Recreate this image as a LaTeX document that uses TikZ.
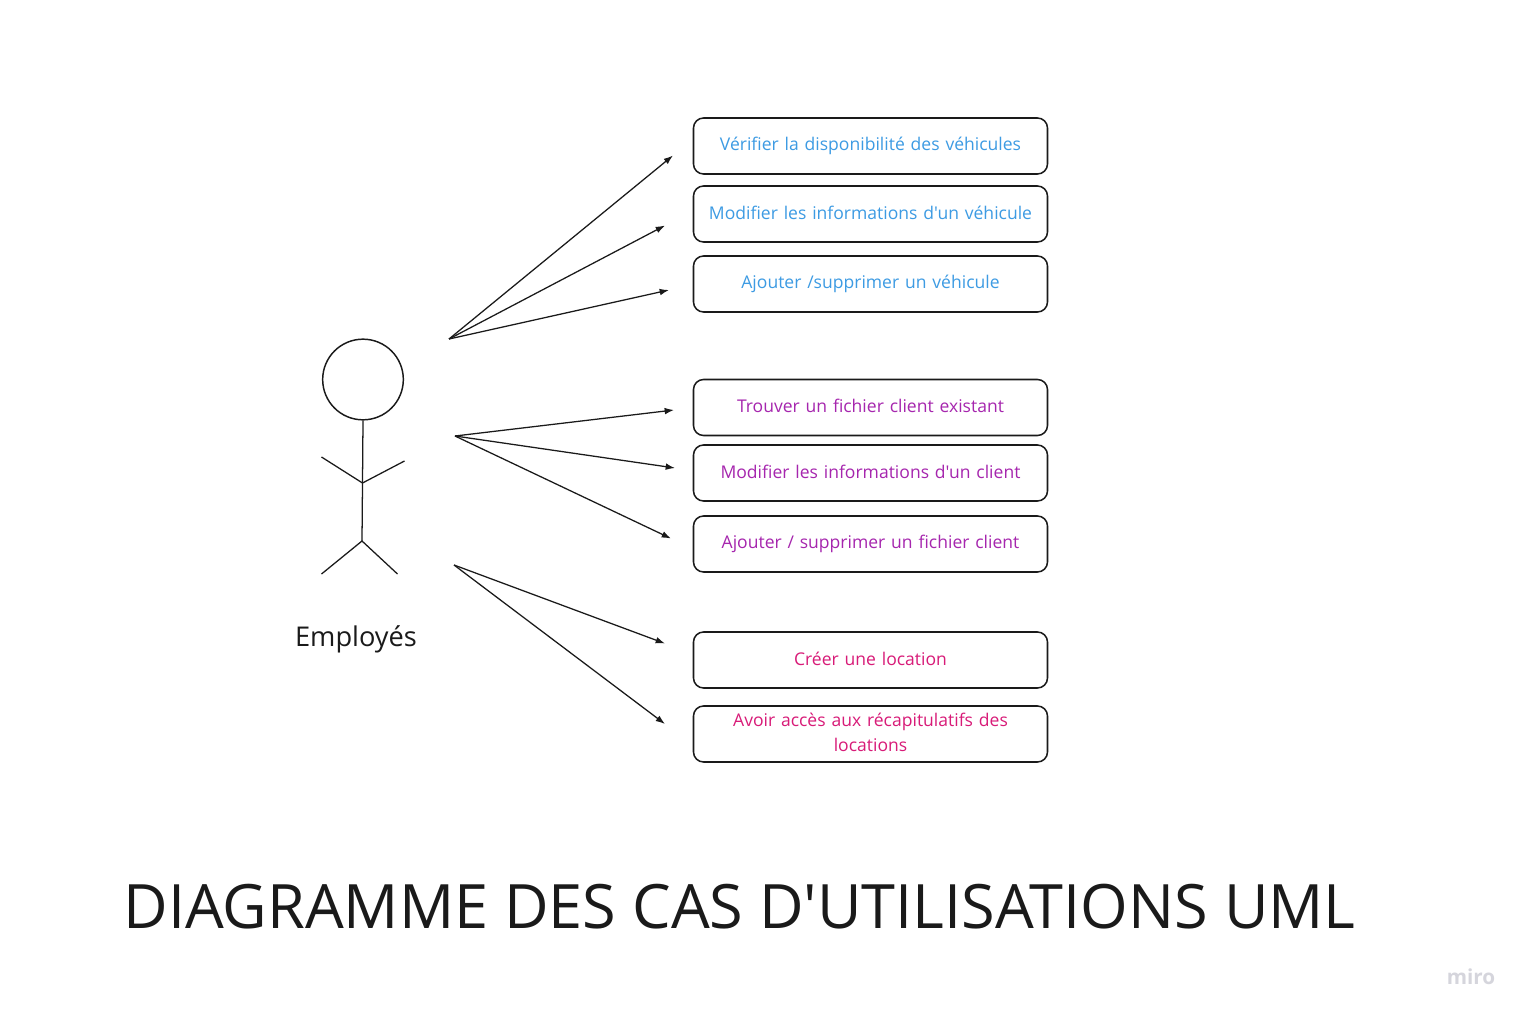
\documentclass[tikz,border=0pt]{standalone}
\usepackage{fontspec}
\newfontfamily\plainsans{Open Sans}
\usetikzlibrary{arrows.meta}
\definecolor{cblue}{HTML}{3D9BE3}
\definecolor{cpurple}{HTML}{A626AE}
\definecolor{cpink}{HTML}{D81B78}
\definecolor{ink}{HTML}{1A1A1A}
\definecolor{wm}{HTML}{D5D5DC}
\tikzset{
  usecase/.style={draw=ink,line width=1.15pt,rounded corners=7.5pt,minimum width=265.5pt,minimum height=42pt,text width=255pt,align=center,inner sep=0pt,font=\plainsans\fontsize{13.15pt}{18.75pt}\selectfont},
  link/.style={draw=ink,line width=0.95pt,-{Latex[length=7pt,width=5pt]}},
  limb/.style={draw=ink,line width=0.95pt},
  head/.style={draw=ink,line width=1.1pt,circle,minimum size=60.5pt,inner sep=0pt},
}
\begin{document}
\begin{tikzpicture}[x=0.75pt,y=-0.75pt]
\useasboundingbox (0,0) rectangle (1530,1020);
\fill[white] (0,0) rectangle (1530,1020);
% use cases
\node[usecase,text=cblue] (a1) at (870.5,146) {\raisebox{1.5pt}{Vérifier la disponibilité des véhicules}};
\node[usecase,text=cblue] (a2) at (870.5,214) {\raisebox{1.5pt}{Modifier les informations d'un véhicule}};
\node[usecase,text=cblue] (a3) at (870.5,284) {\raisebox{1.5pt}{Ajouter /supprimer un véhicule}};
\node[usecase,text=cpurple] (b1) at (870.5,407.5) {\raisebox{2.2pt}{Trouver un fichier client existant}};
\node[usecase,text=cpurple] (b2) at (870.5,473) {\raisebox{1.5pt}{Modifier les informations d'un client}};
\node[usecase,text=cpurple] (b3) at (870.5,544) {\raisebox{1.5pt}{Ajouter / supprimer un fichier client}};
\node[usecase,text=cpink] (c1) at (870.5,660) {\raisebox{1.5pt}{Créer une location}};
\node[usecase,text=cpink] (c2) at (870.5,734) {\raisebox{2.6pt}{Avoir accès aux récapitulatifs des}\\\raisebox{2.6pt}{locations}};
% actor
\node[head] (head) at (363,379.5) {};
\coordinate (hip) at (362.5,483);
\coordinate (armL) at (321.5,457);
\coordinate (armR) at (404.5,461);
\coordinate (crotch) at (362,541);
\coordinate (legL) at (321.5,574);
\coordinate (legR) at (397.5,574);
\draw[limb] (head.south) -- (hip) -- (crotch);
\draw[limb] (armL) -- (hip) -- (armR);
\draw[limb] (legL) -- (crotch) -- (legR);
\node[text=ink,font=\plainsans\fontsize{20.4pt}{24pt}\selectfont] (actor) at (356,639) {Employés};
% arrows
\coordinate (s1) at (449,339);
\coordinate (s2) at (455,436);
\coordinate (s3) at (454,565);
\coordinate (e1) at (673,155.5);
\coordinate (e2) at (665,225.5);
\coordinate (e3) at (669,290);
\coordinate (e4) at (674,410);
\coordinate (e5) at (675,468);
\coordinate (e6) at (671,538.5);
\coordinate (e7) at (665,643.5);
\coordinate (e8) at (665,724);
\foreach \s/\e in {s1/e1,s1/e2,s1/e3,s2/e4,s2/e5,s2/e6,s3/e7,s3/e8}
  \draw[link] (\s) -- (\e);
% title
\node[text=ink,font=\plainsans\fontsize{45.9pt}{56pt}\selectfont] (title) at (739.5,907) {DIAGRAMME DES CAS D'UTILISATIONS UML};
\node[text=wm,font=\plainsans\fontsize{15.5pt}{18pt}\selectfont\bfseries] (miro) at (1471,977) {miro};
\end{tikzpicture}
\end{document}
